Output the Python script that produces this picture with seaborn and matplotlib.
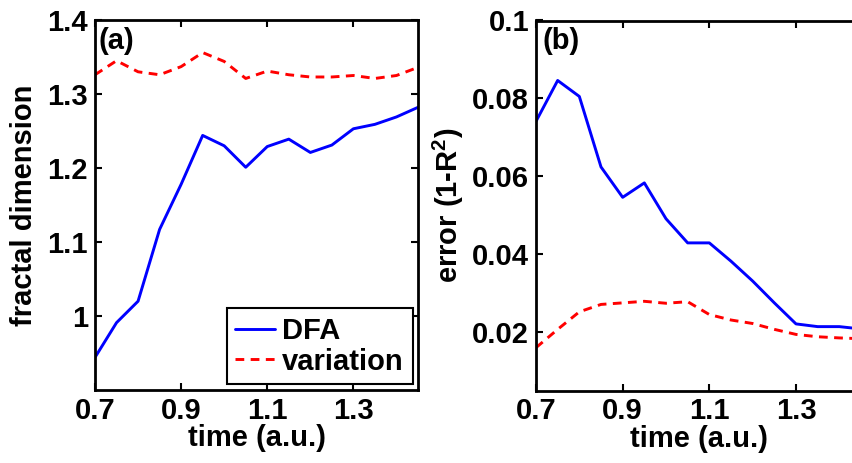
import matplotlib
matplotlib.use("Agg")
import matplotlib.pyplot as plt
from matplotlib.ticker import FuncFormatter
import seaborn as sns
import pandas as pd

# time axis (a.u.)
time = [0.70, 0.75, 0.80, 0.85, 0.90, 0.95, 1.00, 1.05,
        1.10, 1.15, 1.20, 1.25, 1.30, 1.35, 1.40, 1.45]

# fractal dimension estimates
dim_dfa = [0.944, 0.991, 1.020, 1.117, 1.178, 1.244, 1.230, 1.201,
           1.229, 1.239, 1.221, 1.231, 1.253, 1.259, 1.269, 1.282]
dim_variation = [1.326, 1.345, 1.330, 1.326, 1.337, 1.356, 1.344, 1.321,
                 1.331, 1.326, 1.323, 1.323, 1.325, 1.321, 1.325, 1.336]

# fit error (1 - R^2)
err_dfa = [0.0741, 0.0846, 0.0805, 0.0624, 0.0546, 0.0583, 0.0491, 0.0429,
           0.0429, 0.0382, 0.0331, 0.0275, 0.0221, 0.0214, 0.0214, 0.0208]
err_variation = [0.0160, 0.0207, 0.0252, 0.0271, 0.0275, 0.0279, 0.0274, 0.0278,
                 0.0245, 0.0231, 0.0222, 0.0207, 0.0194, 0.0188, 0.0185, 0.0183]

xticks = [0.7, 0.9, 1.1, 1.3]
yticks_a = [1.0, 1.1, 1.2, 1.3, 1.4]
yticks_b = [0.02, 0.04, 0.06, 0.08, 0.1]

sns.set_theme(style="ticks")
plt.rcParams["font.family"] = ["Liberation Sans", "DejaVu Sans"]
plt.rcParams["font.weight"] = "bold"
plt.rcParams["axes.labelweight"] = "bold"
plt.rcParams["text.color"] = "black"
plt.rcParams["axes.labelcolor"] = "black"
plt.rcParams["xtick.color"] = "black"
plt.rcParams["ytick.color"] = "black"
plt.rcParams["mathtext.fontset"] = "custom"
plt.rcParams["mathtext.rm"] = "Liberation Sans:bold"
plt.rcParams["mathtext.bf"] = "Liberation Sans:bold"
plt.rcParams["mathtext.default"] = "bf"

W, H = 852, 463
fig = plt.figure(figsize=(W / 100, H / 100), dpi=100)
fig.patch.set_facecolor("white")

ax_a = fig.add_axes([95 / W, (H - 390) / H, 323 / W, 370 / H])
ax_b = fig.add_axes([536 / W, (H - 390.5) / H, 325 / W, 370 / H])

df_a = pd.DataFrame({"time": time, "DFA": dim_dfa, "variation": dim_variation})
df_b = pd.DataFrame({"time": time, "DFA": err_dfa, "variation": err_variation})

lw = 2.1
fs = 21

for ax, df in ((ax_a, df_a), (ax_b, df_b)):
    sns.lineplot(data=df, x="time", y="DFA", ax=ax, color="#0000ff",
                 linewidth=lw, label="DFA")
    sns.lineplot(data=df, x="time", y="variation", ax=ax, color="#ff0000",
                 linewidth=lw, linestyle=(0, (3.0, 2.2)), label="variation")
    ax.set_facecolor("white")
    ax.set_xlim(0.7, 1.45)
    ax.set_xticks(xticks)
    ax.xaxis.set_major_formatter(FuncFormatter(lambda v, p: f"{v:g}"))
    ax.yaxis.set_major_formatter(FuncFormatter(lambda v, p: f"{v:g}"))
    ax.tick_params(direction="in", length=5, width=1.5, top=True, right=True,
                   labelsize=fs, pad=5, colors="black")
    for lab in ax.get_xticklabels() + ax.get_yticklabels():
        lab.set_fontweight("bold")
    for sp in ax.spines.values():
        sp.set_visible(True)
        sp.set_linewidth(2.0)
        sp.set_color("black")
    ax.set_xlabel("time (a.u.)", fontsize=fs, fontweight="bold", color="black")
    ax.xaxis.set_label_coords(0.5, -0.092)

ax_a.set_ylim(0.9, 1.4)
ax_a.set_yticks(yticks_a)
ax_b.set_ylim(0.005, 0.1)
ax_b.set_yticks(yticks_b)

ax_a.set_ylabel("fractal dimension", fontsize=fs, fontweight="bold", color="black")
ax_a.yaxis.set_label_coords(-0.178, 0.5)
ax_b.set_ylabel("error (1-R$^{2}$)", fontsize=fs, fontweight="bold", color="black")
ax_b.yaxis.set_label_coords(-0.215, 0.5)

ax_a.text(0.01, 0.982, "(a)", transform=ax_a.transAxes, ha="left", va="top",
          fontsize=fs, fontweight="bold", color="black")
ax_b.text(0.02, 0.982, "(b)", transform=ax_b.transAxes, ha="left", va="top",
          fontsize=fs, fontweight="bold", color="black")

leg = ax_a.legend(loc="lower right", bbox_to_anchor=(0.983, 0.015),
                  borderaxespad=0, fontsize=fs, frameon=True, fancybox=False,
                  handlelength=1.35, handletextpad=0.25, borderpad=0.3,
                  labelspacing=0.1)
leg.get_frame().set_edgecolor("black")
leg.get_frame().set_linewidth(1.5)
leg.get_frame().set_alpha(1)
for t in leg.get_texts():
    t.set_fontweight("bold")
    t.set_color("black")
ax_b.get_legend().remove()

fig.savefig("out.png", dpi=100, facecolor="white")
